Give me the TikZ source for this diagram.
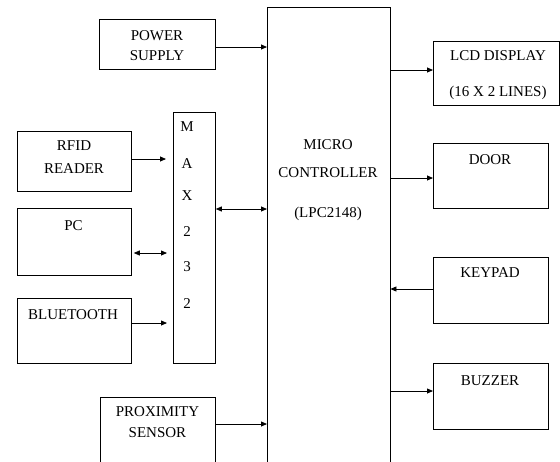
\documentclass[tikz,border=0pt]{standalone}
\usepackage{fontspec}
\setmainfont{Liberation Serif}
\usetikzlibrary{arrows.meta}
\begin{document}
\begin{tikzpicture}[x=1pt,y=-1pt,
  box/.style={draw, line width=0.8pt, inner sep=0pt, anchor=north west},
  openbox/.style={inner sep=0pt, anchor=north west},
  txt/.style={anchor=base, inner sep=0pt, font=\fontsize{15}{17}\selectfont},
  arr/.style={line width=0.8pt, -{Triangle[length=6pt,width=5pt]}},
  darr/.style={line width=0.8pt, {Triangle[length=6pt,width=5pt]}-{Triangle[length=6pt,width=5pt]}}]
\useasboundingbox (0,0) rectangle (560,461);
% boxes
\node[box, minimum width=116pt, minimum height=50pt] (power) at (99,19) {};
\node[box, minimum width=114pt, minimum height=60pt] (rfid) at (17,131) {};
\node[box, minimum width=114pt, minimum height=67pt] (pc) at (17,208) {};
\node[box, minimum width=114pt, minimum height=65pt] (bt) at (17,298) {};
\node[box, minimum width=42pt, minimum height=251pt] (max) at (173,112) {};
\node[openbox, minimum width=115pt, minimum height=70pt] (prox) at (100,397) {};
\draw[line width=0.8pt] (prox.south west) |- (prox.north east) -- (prox.south east);
\node[openbox, minimum width=123pt, minimum height=460pt] (micro) at (267,7) {};
\draw[line width=0.8pt] (micro.south west) |- (micro.north east) -- (micro.south east);
\node[box, minimum width=126pt, minimum height=64pt] (lcd) at (433,41) {};
\node[box, minimum width=115pt, minimum height=65pt] (door) at (433,143) {};
\node[box, minimum width=115pt, minimum height=66pt] (keypad) at (433,257) {};
\node[box, minimum width=115pt, minimum height=66pt] (buzzer) at (433,363) {};
% texts
\node[txt] (t1) at (157,40) {POWER};
\node[txt] (t2) at (157,60) {SUPPLY};
\node[txt] (t3) at (74,150) {RFID};
\node[txt] (t4) at (74,173) {READER};
\node[txt] (t5) at (73.5,230) {PC};
\node[txt] (t6) at (73,319) {BLUETOOTH};
\node[txt] (t7) at (157.5,416) {PROXIMITY};
\node[txt] (t8) at (157.5,437) {SENSOR};
\node[txt] (m1) at (187,131) {M};
\node[txt] (m2) at (187,168) {A};
\node[txt] (m3) at (187,200) {X};
\node[txt] (m4) at (187,236) {2};
\node[txt] (m5) at (187,271) {3};
\node[txt] (m6) at (187,308) {2};
\node[txt] (u1) at (328,149) {MICRO};
\node[txt] (u2) at (328,177) {CONTROLLER};
\node[txt] (u3) at (328,217) {(LPC2148)};
\node[txt] (l1) at (498,60) {LCD DISPLAY};
\node[txt] (l2) at (498,96) {(16 X 2 LINES)};
\node[txt] (d1) at (490,164) {DOOR};
\node[txt] (k1) at (490,277) {KEYPAD};
\node[txt] (b1) at (490,385) {BUZZER};
% connectors
\draw[arr] (power.east |- 0,47) -- (micro.west |- 0,47);
\draw[arr, shorten >=7pt] (rfid.east |- 0,159) -- (max.west |- 0,159);
\draw[darr] (max.east |- 0,209) -- (micro.west |- 0,209);
\draw[darr, shorten <=2pt, shorten >=6pt] (pc.east |- 0,253) -- (max.west |- 0,253);
\draw[arr, shorten >=6pt] (bt.east |- 0,323) -- (max.west |- 0,323);
\draw[arr] (prox.east |- 0,424) -- (micro.west |- 0,424);
\draw[arr] (micro.east |- 0,70) -- (lcd.west |- 0,70);
\draw[arr] (micro.east |- 0,178) -- (door.west |- 0,178);
\draw[arr] (keypad.west |- 0,289) -- (micro.east |- 0,289);
\draw[arr] (micro.east |- 0,391) -- (buzzer.west |- 0,391);
\end{tikzpicture}
\end{document}
